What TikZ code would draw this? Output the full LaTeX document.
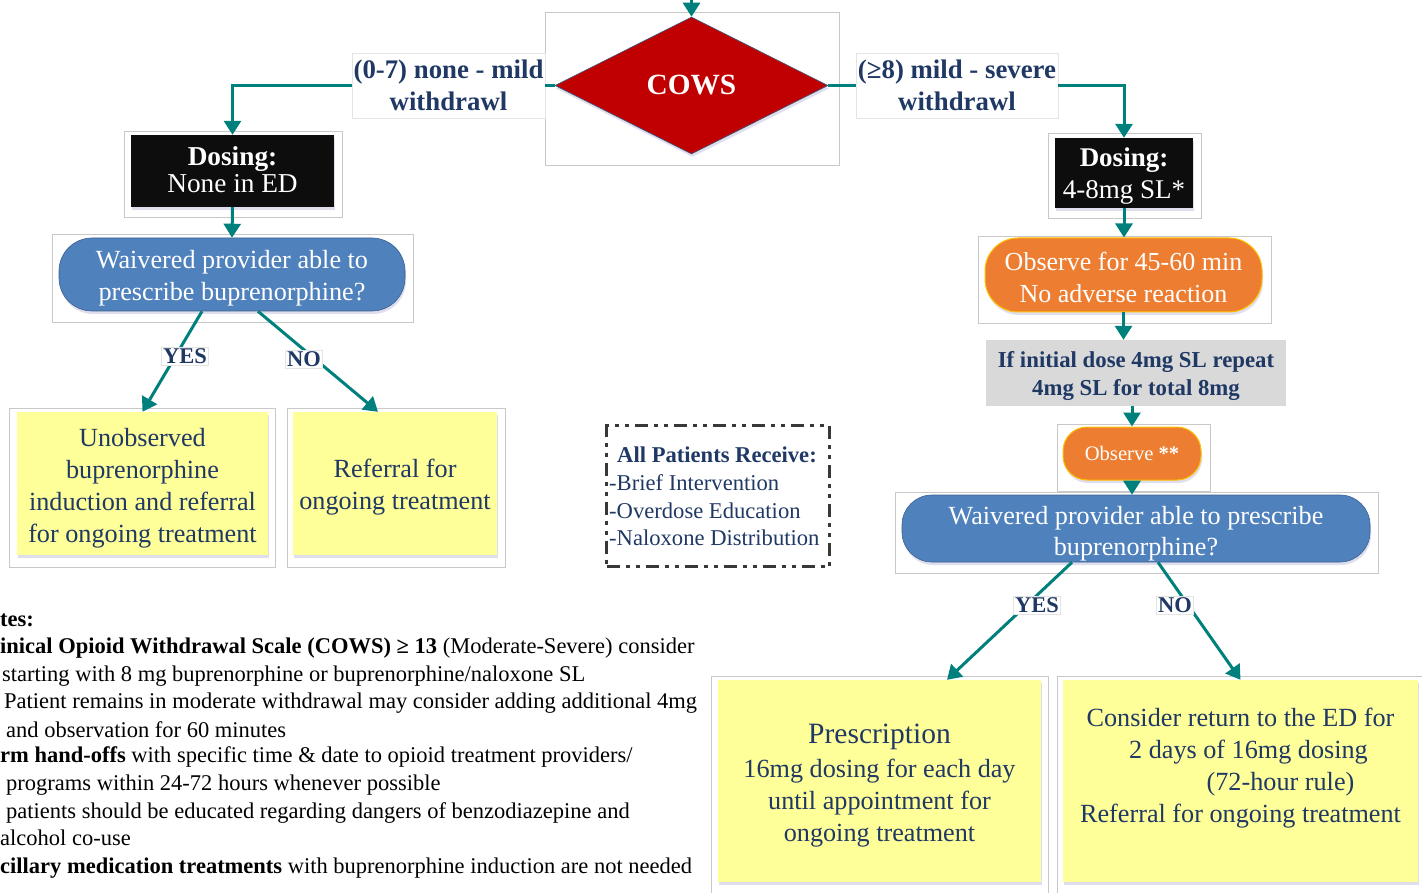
\documentclass[tikz,border=0pt]{standalone}
\usepackage{fontspec}
\setmainfont{Liberation Serif}
\usetikzlibrary{arrows.meta,shapes.geometric,shadows}

\definecolor{flowteal}{HTML}{00807C}
\definecolor{navy}{HTML}{1F3864}
\definecolor{cowsred}{HTML}{C00000}
\definecolor{pillblue}{HTML}{4F81BD}
\definecolor{pillorange}{HTML}{ED7D31}
\definecolor{pillgold}{HTML}{FFC000}
\definecolor{stickyyellow}{HTML}{FFFF99}
\definecolor{boxgray}{HTML}{D9D9D9}
\definecolor{framegray}{HTML}{C8C8C8}
\definecolor{labelframe}{HTML}{E4E4E4}
\definecolor{dashgray}{HTML}{383838}

\newcommand\fsz[2]{\fontsize{#1}{#2}\selectfont}
% centred block of lines, moved vertically without changing the node size
\newcommand\lines[2]{\raisebox{#1}[\height][\depth]{\begin{tabular}{@{}c@{}}#2\end{tabular}}}

\tikzset{
  frame/.style={draw=framegray, line width=0.8pt, inner sep=0pt},
  conn/.style={draw=flowteal, line width=3pt},
  arr/.style={conn, -{Triangle[width=17pt,length=14pt]}},
  softshadow/.style={drop shadow={opacity=0.2, shadow xshift=1pt, shadow yshift=-3pt, fill=blue!30!gray}},
  blackbox/.style={fill=black!95, text=white, inner sep=0pt, align=center, softshadow},
  bluepill/.style={rectangle, fill=pillblue, draw=pillblue!75!black, line width=0.6pt,
    text=white, inner sep=0pt, align=center, softshadow},
  orangepill/.style={rectangle, fill=pillorange, draw=pillgold, line width=1pt,
    text=white, inner sep=0pt, align=center, softshadow},
  stickybox/.style={fill=stickyyellow, text=navy, inner sep=0pt, align=center, softshadow},
  branchlabel/.style={text=navy, align=center, inner sep=0pt, draw=labelframe, line width=0.5pt,
    font=\fsz{26.8}{32}\bfseries},
  yesno/.style={fill=white, draw=labelframe, line width=0.5pt, text=navy, inner sep=1.5pt,
    font=\fsz{22.5}{24}\bfseries},
  noteline/.style={anchor=base west, inner sep=0pt, text=black, font=\fsz{22.5}{26}},
  listline/.style={anchor=west, inner sep=0pt, text=navy, font=\fsz{22.6}{26}},
}

\begin{document}
\begin{tikzpicture}[x=1pt,y=-1pt]
\useasboundingbox (0,0) rectangle (1422,893);
\begin{scope}
\clip (0,0) rectangle (1422,893);

% ---- light frames behind the shapes ----
\node[frame, minimum width=294pt, minimum height=153pt] (frCows) at (692,88.5) {};
\node[frame, minimum width=218pt, minimum height=86pt] (frDosL) at (233,174) {};
\node[frame, minimum width=361pt, minimum height=88pt] (frWaivL) at (232.5,278) {};
\node[frame, minimum width=266pt, minimum height=159pt] (frUnobs) at (142,487.5) {};
\node[frame, minimum width=218pt, minimum height=159pt] (frRefL) at (396,487.5) {};
\node[frame, minimum width=153pt, minimum height=85pt] (frDosR) at (1124.5,175.5) {};
\node[frame, minimum width=293pt, minimum height=87pt] (frObs1) at (1124.5,279.5) {};
\node[frame, minimum width=153pt, minimum height=67pt] (frObs2) at (1133.5,457.5) {};
\node[frame, minimum width=483pt, minimum height=81pt] (frWaivR) at (1136.5,532.5) {};
\node[frame, minimum width=337pt, minimum height=240pt] (frPresc) at (879.5,796) {};
\node[frame, minimum width=370pt, minimum height=240pt] (frCons) at (1242,796) {};

% ---- decision ----
\node[diamond, fill=cowsred, draw=pillblue!70!black, line width=0.6pt, inner sep=0pt,
      minimum width=273pt, minimum height=137pt, text=white, softshadow,
      font=\fsz{29.3}{32}\bfseries] (cows) at (691.5,85.5) {COWS};
\coordinate (entry) at (691.5,-10);

\node[branchlabel, minimum width=193pt, minimum height=65pt] (lblL) at (448.5,85.5)
  {(0-7) none - mild\\withdrawl};
\node[branchlabel, minimum width=202pt, minimum height=65pt] (lblR) at (957,85.5)
  {(≥8) mild - severe\\withdrawl};

% ---- left branch ----
\node[blackbox, minimum width=203pt, minimum height=72pt, font=\fsz{27.3}{27}] (dosL) at (232.5,171)
  {\lines{-3pt}{\textbf{Dosing:}\\None in ED}};
\node[bluepill, rounded corners=33pt, minimum width=346pt, minimum height=73pt, font=\fsz{26.2}{32}] (waivL) at (232,274.5)
  {\lines{-4pt}{Waivered provider able to\\prescribe buprenorphine?}};
\node[stickybox, minimum width=251pt, minimum height=143pt, font=\fsz{26.2}{32}] (unobs) at (142.5,483.5)
  {\lines{-5pt}{Unobserved\\buprenorphine\\induction and referral\\for ongoing treatment}};
\node[stickybox, minimum width=204pt, minimum height=143pt, font=\fsz{26.2}{32}] (refL) at (395,483.5)
  {\lines{-4pt}{Referral for\\ongoing treatment}};

% ---- middle reminder ----
\node[draw=dashgray, line width=3pt, dash pattern=on 13pt off 6pt on 4pt off 6pt on 4pt off 6pt,
      minimum width=223pt, minimum height=141pt] (allp) at (718,496) {};
\node[anchor=center, inner sep=0pt, text=navy, font=\fsz{22.6}{26}\bfseries] (allpHead) at (717,455)
  {All Patients Receive:};
\node[listline] (allp1) at (609,483) {-Brief Intervention};
\node[listline] (allp2) at (609,511) {-Overdose Education};
\node[listline] (allp3) at (609,538) {-Naloxone Distribution};

% ---- right branch ----
\node[blackbox, minimum width=138pt, minimum height=70pt, font=\fsz{27}{32}] (dosR) at (1124,173)
  {\lines{-3pt}{\textbf{Dosing:}\\4-8mg SL*}};
\node[orangepill, rounded corners=33pt, minimum width=277pt, minimum height=74pt, font=\fsz{26}{32}] (obs1) at (1123.5,275)
  {\lines{-5pt}{Observe for 45-60 min\\No adverse reaction}};
\node[fill=boxgray, inner sep=0pt, text=navy, align=center, minimum width=300pt, minimum height=66pt,
      font=\fsz{22.8}{28}\bfseries] (repeat) at (1136,373)
  {\lines{-3pt}{If initial dose 4mg SL repeat\\4mg SL for total 8mg}};
\node[orangepill, rounded corners=24pt, minimum width=138pt, minimum height=53pt, font=\fsz{20.6}{24}] (obs2) at (1132,453.5)
  {Observe \textbf{**}};
\node[bluepill, rounded corners=30pt, minimum width=468pt, minimum height=67pt, font=\fsz{26.2}{31}] (waivR) at (1136,528.5)
  {\lines{-5pt}{Waivered provider able to prescribe\\buprenorphine?}};
\node[stickybox, minimum width=323pt, minimum height=202pt, font=\fsz{26.2}{32}] (presc) at (879.5,781)
  {\lines{-5pt}{{\fsz{29.5}{36}Prescription}\\[2pt]16mg dosing for each day\\until appointment for\\ongoing treatment}};
\node[stickybox, minimum width=355pt, minimum height=202pt, font=\fsz{26.2}{32}] (cons) at (1240.5,781)
  {\lines{13pt}{Consider return to the ED for\\
   \hspace*{16pt}2 days of 16mg dosing\\
   \hspace*{80pt}(72-hour rule)\\
   Referral for ongoing treatment}};

% ---- connectors ----
\draw[arr] (entry) -- (cows.north);
\draw[conn] (cows.west) -- (lblL.east);
\draw[arr] (lblL.west) -| (dosL.north);
\draw[conn] (cows.east) -- (lblR.west);
\draw[arr] (lblR.east) -| (dosR.north);

\draw[arr] (dosL.south) -- (waivL.north);
\draw[arr] ([xshift=-30pt]waivL.south) -- (unobs.north);
\draw[arr] ([xshift=26pt]waivL.south) -- ([xshift=-17pt]refL.north);

\draw[arr] (dosR.south) -- (dosR.south |- obs1.north);
\draw[arr] (obs1.south) -- (obs1.south |- repeat.north);
\draw[arr] (obs2.north |- repeat.south) -- (obs2.north);
\draw[arr] (obs2.south) -- (obs2.south |- waivR.north);
\draw[arr] ([xshift=-64pt]waivR.south) -- ([xshift=67.5pt]presc.north);
\draw[arr] ([xshift=22pt]waivR.south) -- (cons.north);

% ---- branch answers ----
\node[yesno] (yesL) at (185,356) {YES};
\node[yesno] (noL) at (304,359) {NO};
\node[yesno] (yesR) at (1037,605) {YES};
\node[yesno] (noR) at (1175,605) {NO};

% ---- footnotes ----
\node[noteline] (n1) at (0,626) {\bfseries tes:};
\node[noteline] (n2) at (0,653) {\textbf{inical Opioid Withdrawal Scale (COWS) ≥ 13} (Moderate-Severe) consider};
\node[noteline] (n3) at (2,681) {starting with 8 mg buprenorphine or buprenorphine/naloxone SL};
\node[noteline] (n4) at (4,708) {Patient remains in moderate withdrawal may consider adding additional 4mg};
\node[noteline] (n5) at (6,737) {and observation for 60 minutes};
\node[noteline] (n6) at (0,762) {\textbf{rm hand-offs} with specific time \& date to opioid treatment providers/};
\node[noteline] (n7) at (6,790) {programs within 24-72 hours whenever possible};
\node[noteline] (n8) at (6,818) {patients should be educated regarding dangers of benzodiazepine and};
\node[noteline] (n9) at (0,845) {alcohol co-use};
\node[noteline] (n10) at (0,873) {\textbf{cillary medication treatments} with buprenorphine induction are not needed};
\end{scope}
\end{tikzpicture}
\end{document}
